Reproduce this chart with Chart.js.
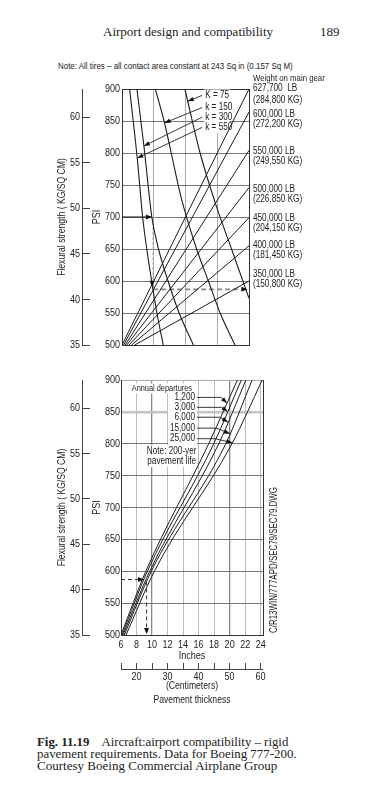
<!DOCTYPE html>
<html><head><meta charset="utf-8">
<script src="https://cdn.jsdelivr.net/npm/chart.js@4.4.1/dist/chart.umd.min.js"></script>
<style>
html,body{margin:0;padding:0;background:#fff;width:378px;height:800px;overflow:hidden;}
#page{position:relative;width:378px;height:800px;background:#fff;}
canvas{position:absolute;left:0;}
.t{position:absolute;white-space:nowrap;color:#222;transform-origin:0 0;}
</style></head><body><div id="page">
<div class="t" id="hdr" style="left:103px;top:24px;font-size:13px;line-height:16px;">Airport design and compatibility</div>
<div class="t" id="pg" style="left:320px;top:24px;font-size:13px;line-height:16px;">189</div>
<div class="t" id="note" style="left:58px;top:61px;font-size:9px;line-height:10px;">Note: All tires – all contact area constant at 243 Sq in (0.157 Sq M)</div>
<canvas id="topChart" width="378" height="360" style="top:0"></canvas>
<canvas id="botChart" width="378" height="360" style="top:360px"></canvas>
<div class="t" id="dwg" style="left:274px;top:633px;font-size:10px;line-height:10px;">C/R13WIN/777APD/SEC79/SEC79.DWG</div>
<div class="t" id="cap1" style="left:37px;top:736px;font-size:12px;line-height:12px;"><b>Fig. 11.19</b>&nbsp;&nbsp;&nbsp; Aircraft:airport compatibility – rigid</div>
<div class="t" id="cap2" style="left:37px;top:748px;font-size:12px;line-height:12px;">pavement requirements. Data for Boeing 777-200.</div>
<div class="t" id="cap3" style="left:37px;top:760px;font-size:12px;line-height:12px;">Courtesy Boeing Commercial Airplane Group</div>
</div>
<script>
// ---------------- DATA ----------------
const PSI_TO_KG = 0.070307;
// top nomograph: weight lines (start x at 500 psi, end psi at right edge x=4)
const weightLbLabels = ['627,700  LB','600,000 LB','550,000 LB','500,000 LB','450,000 LB','400,000 LB','350,000 LB'];
const weightKgLabels = ['(284,800 KG)','(272,200 KG)','(249,550 KG)','(226,850 KG)','(204,150 KG)','(181,450 KG)','(150,800 KG)'];
const weightStartX = [0.00, 0.05, 0.10, 0.15, 0.22, 0.30, 0.40];
const weightEndPsi = [900, 864, 804, 746, 699, 655, 600];
// subgrade modulus curves  [x, psi]
const kLabels = ['K = 75', 'k = 150', 'k = 300', 'k = 550'];
const curveK75  = [[1.98,900],[2.46,800],[2.95,720],[3.45,650],[4.0,573]];
const curveK150 = [[1.05,900],[1.34,847],[1.55,800],[1.88,727],[2.35,650],[2.72,600],[3.09,550],[3.56,500]];
const curveK300 = [[0.47,900],[0.69,811],[0.94,700],[1.15,650],[1.45,600],[1.80,550],[2.25,500]];
const curveK550 = [[0.24,900],[0.48,792],[0.65,700],[0.78,650],[0.95,595],[1.10,550],[1.30,500]];
const kArrowPsi = [881, 847, 811, 792];
// example path, top
const topExamplePsi = 700, topTurnPsi = 587, topDropX = 0.98, topEndX = 3.95;
// bottom chart: annual departures lines [inches, psi]
const departures = ['1,200','3,000','6,000','15,000','25,000'];
const dep1200  = [[6.00,500],[9.2,600],[17.30,800],[21.0,900]];
const dep3000  = [[6.13,500],[9.4,600],[17.95,800],[21.5,900]];
const dep6000  = [[6.26,500],[9.7,600],[18.60,800],[22.1,900]];
const dep15000 = [[6.43,500],[9.9,600],[19.50,800],[22.9,900]];
const dep25000 = [[6.65,500],[10.3,600],[20.30,800],[24.2,900]];
const depArrowPsi = [863.8, 850.5, 833.9, 815.7, 801.7];
const bottomExamplePsi = 587, bottomDropX = 9.3;
// axes
const psiRange = [500, 900], psiStep = 50;
const inchRange = [6, 24.3], inchStep = 2;
const cmRange = [15, 60.8], cmStep = 5;
const kgStep = 5;

// ---------------- LAYOUT (positions only) ----------------
const kLabelX = 2.62, kLabelPsi = [890, 871, 856, 840];
const weightLabelDy = [-1, 2, 1, 2, 1, -1, -7];
const depLabelPsi = [872.7, 857.1, 841.6, 824.5, 807.9];
const depLabelX = 15.54, depLeaderStartX = 15.78;
const depBendX = [18.89, 18.98, 18.76, 18.33, 18.11];
const depTitleAt = [7.38, 886.6];
const noteAt = [12.53, 788.4, 772.8];

// ---------------- FONTS ----------------
const SANS = '"Liberation Sans", Arial, sans-serif';
const SERIF = '"Liberation Serif", "Times New Roman", serif';
const CONDENSE = 0.82;   // emulate a condensed sans face

['hdr','pg','cap1','cap2','cap3'].forEach(id=>document.getElementById(id).style.fontFamily = SERIF);
['note','dwg'].forEach(id=>document.getElementById(id).style.fontFamily = SANS);
function fitWidth(id, w, pre){
  const el = document.getElementById(id);
  const s = w / el.offsetWidth;
  el.style.transform = (pre || '') + ` scaleX(${s})`;
}
fitWidth('hdr', 170); fitWidth('note', 235);
fitWidth('cap1', 251); fitWidth('cap2', 260); fitWidth('cap3', 240);
fitWidth('dwg', 146, 'rotate(-90deg) translateY(-50%)');

function condense(canvas, sx){
  const ctx = canvas.getContext('2d');
  const orig = ctx.fillText;
  ctx.fillText = function(text, x, y, maxWidth){
    this.save(); this.translate(x, y); this.scale(sx, 1);
    if (maxWidth !== undefined && maxWidth !== null) orig.call(this, text, 0, 0, maxWidth / sx);
    else orig.call(this, text, 0, 0);
    this.restore();
  };
}

// ---------------- HELPERS ----------------
function interpX(pts, psi){
  for (let i = 0; i < pts.length - 1; i++){
    const a = pts[i], b = pts[i+1];
    const lo = Math.min(a[1], b[1]), hi = Math.max(a[1], b[1]);
    if (psi >= lo && psi <= hi){
      const t = (psi - a[1]) / (b[1] - a[1]);
      return a[0] + t * (b[0] - a[0]);
    }
  }
  return pts[pts.length-1][0];
}
function seg(ctx, pts, color, w, dash){
  ctx.save(); ctx.strokeStyle = color; ctx.lineWidth = w; ctx.setLineDash(dash || []);
  ctx.beginPath(); pts.forEach((p,i)=> i ? ctx.lineTo(p[0],p[1]) : ctx.moveTo(p[0],p[1])); ctx.stroke(); ctx.restore();
}
function arrowHead(ctx, x, y, ang, len, half){
  len = len || 6; half = half || 2.3;
  ctx.save(); ctx.fillStyle = '#111';
  ctx.beginPath(); ctx.moveTo(x, y);
  ctx.lineTo(x - len*Math.cos(ang) + half*Math.sin(ang), y - len*Math.sin(ang) - half*Math.cos(ang));
  ctx.lineTo(x - len*Math.cos(ang) - half*Math.sin(ang), y - len*Math.sin(ang) + half*Math.cos(ang));
  ctx.closePath(); ctx.fill(); ctx.restore();
}
function whiteBox(ctx, x0, y0, x1, y1){
  ctx.save(); ctx.fillStyle = '#fff'; ctx.fillRect(x0, y0, x1 - x0, y1 - y0); ctx.restore();
}
const toXY = pts => pts.map(p => ({x: p[0], y: p[1]}));
const clear = 'rgba(0,0,0,0)';

Chart.defaults.font.family = SANS;
Chart.defaults.font.size = 11;
Chart.defaults.color = '#222';

function leftAxes(psiWidth, psiPad){
  return {
    y: {type:'linear', position:'left', weight:1, min:psiRange[0], max:psiRange[1],
      ticks:{stepSize:psiStep, padding:psiPad, font:{size:11}, color:'#222'},
      grid:{drawTicks:false, color: c => (c.tick && (c.tick.value===psiRange[0] || c.tick.value===psiRange[1])) ? clear : '#777', lineWidth:1},
      border:{display:true, color:'#333', width:1},
      title:{display:true, text:'PSI', font:{size:11}, padding:0, color:'#222'},
      afterFit: s => { s.width = psiWidth; }},
    yKg: {type:'linear', position:'left', weight:2, min:35, max:35 + (psiRange[1]-psiRange[0])*PSI_TO_KG,
      ticks:{stepSize:kgStep, padding:2, includeBounds:false, font:{size:11}, color:'#222'},
      grid:{drawOnChartArea:false, drawTicks:true, tickLength:8, tickColor:'#444', color:'#444'},
      border:{display:false},
      title:{display:true, text:'Flexural strength ( KG/SQ CM)', font:{size:10.5}, padding:0, color:'#222'},
      afterFit: s => { s.width = 34; }},
    yRight: {type:'linear', position:'right', min:psiRange[0], max:psiRange[1],
      ticks:{display:false}, grid:{drawOnChartArea:false, drawTicks:false, color:clear},
      border:{display:true, color:'#333', width:1}, afterFit: s => { s.width = 0; }}
  };
}

// ---------------- TOP CHART ----------------
const kCurves = [curveK75, curveK150, curveK300, curveK550];
const tip700 = interpX(curveK300, topExamplePsi);
const topDatasets = [];
weightStartX.forEach((x0, i) => topDatasets.push({data:[{x:x0, y:psiRange[0]}, {x:4, y:weightEndPsi[i]}], borderColor:'#1c1c1c', borderWidth:1}));
kCurves.forEach(c => topDatasets.push({data:toXY(c), borderColor:'#1c1c1c', borderWidth:1.1, cubicInterpolationMode:'monotone'}));
topDatasets.push({data:[{x:0, y:topExamplePsi}, {x:tip700, y:topExamplePsi}], borderColor:'#111', borderWidth:1});
topDatasets.push({data:[{x:topDropX, y:topExamplePsi}, {x:topDropX, y:topTurnPsi}], borderColor:'#aaa', borderWidth:1.2, borderDash:[3,2]});
topDatasets.push({data:[{x:topDropX, y:topTurnPsi}, {x:topEndX, y:topTurnPsi}], borderColor:'#888', borderWidth:1.8, borderDash:[5,3]});

const topDecor = {
  id:'topDecor',
  beforeDatasetsDraw(chart){
    const {ctx} = chart;
    const X = v => chart.scales.x.getPixelForValue(v), Y = v => chart.scales.y.getPixelForValue(v);
    whiteBox(ctx, X(kLabelX) - 1, Y(kLabelPsi[0]) - 6, X(kLabelX) + 25, Y(kLabelPsi[kLabelPsi.length-1]) + 6);
  },
  afterDraw(chart){
    const {ctx, chartArea:ca} = chart;
    const sx = chart.scales.x, sy = chart.scales.y, kg = chart.scales.yKg;
    const X = v => sx.getPixelForValue(v), Y = v => sy.getPixelForValue(v);
    seg(ctx, [[kg.right-8+0.5, kg.top], [kg.right-8+0.5, kg.bottom]], '#444', 1);
    ctx.save();
    ctx.fillStyle = '#222'; ctx.textBaseline = 'middle'; ctx.textAlign = 'left';
    ctx.font = `10px ${SANS}`;
    kCurves.forEach((curve, i) => {
      const lx = X(kLabelX), ly = Y(kLabelPsi[i]);
      ctx.fillText(kLabels[i], lx, ly);
      const tx = X(interpX(curve, kArrowPsi[i])), ty = Y(kArrowPsi[i]);
      const sxp = lx - 3;
      seg(ctx, [[sxp, ly], [tx, ty]], '#222', 0.9);
      arrowHead(ctx, tx, ty, Math.atan2(ty - ly, tx - sxp), 6, 2.2);
    });
    ctx.font = `9.5px ${SANS}`;
    ctx.fillText('Weight on main gear', ca.right + 4, ca.top - 11);
    ctx.font = `10px ${SANS}`;
    weightLbLabels.forEach((t, i) => {
      const yy = Y(weightEndPsi[i]) + weightLabelDy[i];
      ctx.fillText(t, ca.right + 4, yy);
      ctx.fillText(weightKgLabels[i], ca.right + 4, yy + (i === 0 ? 12 : 10));
    });
    ctx.restore();
    arrowHead(ctx, X(tip700), Y(topExamplePsi), 0, 6, 2.5);
    arrowHead(ctx, X(topDropX) - 1, Y(topTurnPsi + 4), Math.PI/2, 6, 2.5);
    arrowHead(ctx, X(topEndX), Y(topTurnPsi), 0, 6, 2.5);
  }
};

const topCanvas = document.getElementById('topChart');
condense(topCanvas, CONDENSE);
new Chart(topCanvas, {
  type:'line',
  data:{datasets: topDatasets},
  options:{
    responsive:false, animation:false, devicePixelRatio:1, events:[],
    layout:{padding:{left:56, right:129, top:89, bottom:15}},
    elements:{point:{radius:0}, line:{tension:0}},
    plugins:{legend:{display:false}, tooltip:{enabled:false}},
    scales:Object.assign({
      x:{type:'linear', position:'bottom', weight:0, min:0, max:4,
        ticks:{display:false, stepSize:1},
        grid:{drawTicks:false, color: c => (c.tick && (c.tick.value===0 || c.tick.value===4)) ? clear : '#aaa'},
        border:{display:true, color:'#333', width:1}, afterFit: s => { s.height = 0; }},
      xTop:{type:'linear', position:'top', min:0, max:4, ticks:{display:false},
        grid:{drawOnChartArea:false, drawTicks:false, color:clear},
        border:{display:true, color:'#333', width:1}, afterFit: s => { s.height = 0; }}
    }, leftAxes(32, 2))
  },
  plugins:[topDecor]
});

// ---------------- BOTTOM CHART ----------------
const depLines = [dep1200, dep3000, dep6000, dep15000, dep25000];
const botTipX = interpX(dep3000, bottomExamplePsi);
const botDatasets = [];
depLines.forEach(l => botDatasets.push({data:toXY(l), borderColor:'#1c1c1c', borderWidth:1, cubicInterpolationMode:'monotone'}));
botDatasets.push({data:[{x:inchRange[0], y:bottomExamplePsi}, {x:botTipX, y:bottomExamplePsi}], borderColor:'#333', borderWidth:1, borderDash:[4,3]});
botDatasets.push({data:[{x:bottomDropX, y:bottomExamplePsi - 3}, {x:bottomDropX, y:psiRange[0] + 3}], borderColor:'#333', borderWidth:1, borderDash:[4,3]});

const botDecor = {
  id:'botDecor',
  beforeDatasetsDraw(chart){
    const {ctx} = chart;
    const X = v => chart.scales.x.getPixelForValue(v), Y = v => chart.scales.y.getPixelForValue(v);
    whiteBox(ctx, X(depTitleAt[0]) - 1, Y(depTitleAt[1]) - 5, X(depTitleAt[0]) + 64, Y(depTitleAt[1]) + 5);
    whiteBox(ctx, X(depLabelX) - 27, Y(depLabelPsi[0]) - 6, X(depLeaderStartX), Y(depLabelPsi[depLabelPsi.length-1]) + 6);
    whiteBox(ctx, X(noteAt[0]) - 26, Y(noteAt[1]) - 6, X(noteAt[0]) + 26, Y(noteAt[2]) + 6);
  },
  afterDraw(chart){
    const {ctx} = chart;
    const sx = chart.scales.x, sy = chart.scales.y, kg = chart.scales.yKg, cm = chart.scales.xCm;
    const X = v => sx.getPixelForValue(v), Y = v => sy.getPixelForValue(v);
    seg(ctx, [[kg.right-8+0.5, kg.top], [kg.right-8+0.5, kg.bottom]], '#444', 1);
    seg(ctx, [[cm.left, cm.top+6+0.5], [cm.right, cm.top+6+0.5]], '#444', 1);
    ctx.save();
    ctx.fillStyle = '#222'; ctx.textBaseline = 'middle';
    ctx.font = `9px ${SANS}`;
    ctx.textAlign = 'left';
    ctx.fillText('Annual departures', X(depTitleAt[0]), Y(depTitleAt[1]));
    ctx.font = `10px ${SANS}`;
    ctx.textAlign = 'right';
    departures.forEach((t, i) => {
      const ly = Y(depLabelPsi[i]);
      ctx.fillText(t, X(depLabelX), ly);
      const tx = X(interpX(depLines[i], depArrowPsi[i])), ty = Y(depArrowPsi[i]);
      const bx = X(depBendX[i]);
      seg(ctx, [[X(depLeaderStartX), ly], [bx, ly], [tx, ty]], '#222', 0.9);
      arrowHead(ctx, tx, ty, Math.atan2(ty - ly, tx - bx), 6, 2.2);
    });
    ctx.textAlign = 'center';
    ctx.fillText('Note: 200-yer', X(noteAt[0]), Y(noteAt[1]));
    ctx.fillText('pavement life', X(noteAt[0]), Y(noteAt[2]));
    ctx.restore();
    arrowHead(ctx, X(botTipX), Y(bottomExamplePsi), 0, 6, 2.5);
    arrowHead(ctx, X(bottomDropX), Y(psiRange[0]) - 1, Math.PI/2, 6, 2.5);
  }
};

const botCanvas = document.getElementById('botChart');
condense(botCanvas, CONDENSE);
new Chart(botCanvas, {
  type:'line',
  data:{datasets: botDatasets},
  options:{
    responsive:false, animation:false, devicePixelRatio:1, events:[],
    layout:{padding:{left:56, right:115, top:20, bottom:13}},
    elements:{point:{radius:0}, line:{tension:0}},
    plugins:{legend:{display:false}, tooltip:{enabled:false}},
    scales:Object.assign({
      x:{type:'linear', position:'bottom', weight:0, min:inchRange[0], max:inchRange[1],
        ticks:{stepSize:inchStep, includeBounds:false, padding:3, autoSkip:false, maxRotation:0, font:{size:11}, color:'#222'},
        grid:{drawTicks:false,
          color: c => { const v = c.tick && c.tick.value; if (v === inchRange[0]) return clear; return (v === 10 || v === 20) ? '#888' : '#bbb'; },
          lineWidth: c => { const v = c.tick && c.tick.value; return (v === 10 || v === 20) ? 1.3 : 1; }},
        border:{display:true, color:'#333', width:1},
        title:{display:true, text:'Inches', font:{size:11}, padding:0, color:'#222'},
        afterFit: s => { s.height = 28; }},
      xCm:{type:'linear', position:'bottom', weight:1, min:cmRange[0], max:cmRange[1],
        ticks:{stepSize:cmStep, includeBounds:false, padding:1, autoSkip:false, maxRotation:0, font:{size:11}, color:'#222',
          callback: v => (v % 10 === 0) ? String(v) : ''},
        grid:{drawOnChartArea:false, drawTicks:true, tickLength:6, tickColor:'#444', color:'#444'},
        border:{display:false},
        title:{display:true, text:['(Centimeters)', 'Pavement thickness'], font:{size:10.5, lineHeight:1.33}, padding:0, color:'#222'},
        afterFit: s => { s.height = 44; }},
      xTop:{type:'linear', position:'top', min:inchRange[0], max:inchRange[1], ticks:{display:false},
        grid:{drawOnChartArea:false, drawTicks:false, color:clear},
        border:{display:true, color:'#aaa', width:1}, afterFit: s => { s.height = 0; }}
    }, (() => {
      const a = leftAxes(31, 1);
      a.y.grid.color = c => { const v = c.tick && c.tick.value; if (v === psiRange[0] || v === psiRange[1]) return clear; return v === 850 ? '#c4c4c4' : '#777'; };
      a.y.grid.lineWidth = c => (c.tick && c.tick.value === 850) ? 2.5 : 1;
      return a;
    })())
  },
  plugins:[botDecor]
});
</script>
</body></html>
